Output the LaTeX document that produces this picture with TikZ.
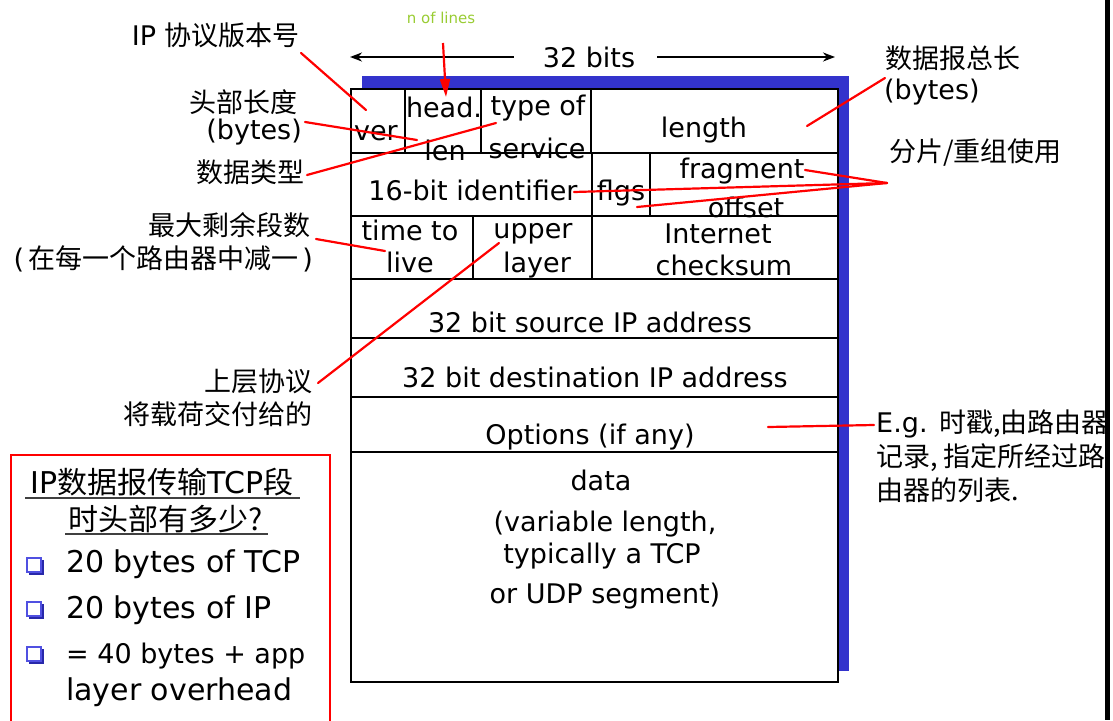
\documentclass[tikz,border=0pt]{standalone}
\usepackage{fontspec}
\setmainfont{DejaVu Sans}
\newfontfamily\cjk{Noto Sans CJK SC}
\usetikzlibrary{arrows.meta}
\definecolor{shadowblue}{RGB}{51,51,204}
\definecolor{leadred}{RGB}{255,0,0}
\definecolor{notegreen}{RGB}{153,204,51}
\definecolor{bulletblue}{RGB}{80,80,225}
\definecolor{bulletdark}{RGB}{40,40,170}

\begin{document}
\begin{tikzpicture}[x=1pt,y=-1pt,
  field/.style={font=\fontsize{27}{31}\selectfont, anchor=base, inner sep=0pt},
  lblR/.style={font=\fontsize{27}{31}\selectfont, anchor=base east, inner sep=0pt},
  lblL/.style={font=\fontsize{27}{31}\selectfont, anchor=base west, inner sep=0pt},
  note/.style={font=\fontsize{30}{34}\selectfont, inner sep=0pt},
  grid/.style={line width=2pt, black},
  leader/.style={draw=leadred, line width=2.2pt, line cap=round},
  span/.style={line width=2pt, -{Stealth[length=12pt,width=9pt]}}]

\useasboundingbox (0,0) rectangle (1113,720);

% header layout: shadow, outer frame and field rows
\fill[shadowblue] (362,76) rectangle (849,671);
\filldraw[grid, fill=white] (351,89) rectangle (838,682);
\foreach \yy in {153,216,279,338,397,452} \draw[grid] (351,\yy) -- (838,\yy);
\foreach \xx in {405,481,591} \draw[grid] (\xx,89) -- (\xx,153);
\foreach \xx in {592,650} \draw[grid] (\xx,153) -- (\xx,216);
\foreach \xx in {473,592} \draw[grid] (\xx,216) -- (\xx,279);

% field names
\node[field] (ver)   at (376,140) {ver};
\node[field] (hlen1) at (444,117) {head.};
\node[field] (hlen2) at (445,160) {len};
\node[field] (tos1)  at (538,115) {type of};
\node[field] (tos2)  at (537,158) {service};
\node[field] (len)   at (704,137) {length};
\node[field] (ident) at (473,200) {16-bit identifier};
\node[field] (flgs)  at (621,200) {flgs};
\node[field] (frag1) at (742,178) {fragment};
\node[field] (frag2) at (746,217) {offset};
\node[field] (ttl1)  at (410,240) {time to};
\node[field] (ttl2)  at (410,272) {live};
\node[field] (up1)   at (533,238) {upper};
\node[field] (up2)   at (537,272) {layer};
\node[field] (ck1)   at (718,243) {Internet};
\node[field] (ck2)   at (724,275) {checksum};
\node[field] (src)   at (590,332) {32 bit source IP address};
\node[field] (dst)   at (595,387) {32 bit destination IP address};
\node[field] (opt)   at (590,444) {Options (if any)};
\node[field] (data1) at (601,490) {data};
\node[field] (data2) at (605,531) {(variable length,};
\node[field] (data3) at (602,563) {typically a TCP};
\node[field] (data4) at (605,603) {or UDP segment)};

% width marker
\node[field] (bits) at (589,67) {32 bits};
\coordinate (bitsL) at (350,57);
\coordinate (bitsR) at (835,57);
\draw[span] (bits.west |- bitsL) ++(-29,0) -- (bitsL);
\draw[span] (bits.east |- bitsR) ++(22,0) -- (bitsR);

% small annotation on the header length field
\node[font=\fontsize{15}{17}\selectfont, text=notegreen, inner sep=0pt] (nlines) at (441,18) {n of lines};
\coordinate (nlinesTip) at (446,97);
\draw[leadred, line width=2.2pt, -{Triangle[length=18pt,width=10pt]}] (443,43) -- (nlinesTip);

% labels on the left
\node[lblR] (lver)  at (300,45)  {IP {\cjk 协议版本号}};
\node[lblR] (lhl1)  at (298,112) {\cjk 头部长度};
\node[lblR] (lhl2)  at (302,139) {(bytes)};
\node[lblR] (ltos)  at (305,182) {\cjk 数据类型};
\node[lblR] (lttl1) at (311,235) {\cjk 最大剩余段数};
\node[lblR] (lttl2) at (313,268) {(\hspace{4pt}{\cjk 在每一个路由器中减一}\hspace{4pt})};
\node[lblR] (lup1)  at (313,391) {\cjk 上层协议};
\node[lblR] (lup2)  at (313,424) {\cjk 将载荷交付给的};

% labels on the right, cut at the slide edge
\begin{scope}
  \clip (0,0) rectangle (1105,720);
  \node[lblL] (llen1) at (885,68)  {\cjk 数据报总长};
  \node[lblL] (llen2) at (884,99)  {(bytes)};
  \node[lblL] (lfrag) at (889,161) {\cjk 分片/重组使用};
  \node[lblL] (lopt1) at (876,432) {E.g. {\cjk 时戳,由路由器}};
  \node[lblL] (lopt2) at (876,466) {\cjk 记录, 指定所经过路};
  \node[lblL] (lopt3) at (876,500) {\cjk 由器的列表.};
\end{scope}
\fill[black] (1105,0) rectangle (1110,720);

% leader lines
\coordinate (aVer1) at (301,53);   \coordinate (aVer2) at (366,110);
\coordinate (aHl1)  at (305,122);  \coordinate (aHl2)  at (417,140);
\coordinate (aTos1) at (307,175);  \coordinate (aTos2) at (496,123);
\coordinate (aTtl1) at (316,239);  \coordinate (aTtl2) at (385,251);
\coordinate (aUp1)  at (318,383);  \coordinate (aUp2)  at (499,243);
\coordinate (aLen1) at (885,78);   \coordinate (aLen2) at (807,126);
\coordinate (aFrag) at (887,183);
\coordinate (aFragA) at (805,170); \coordinate (aFragB) at (574,192); \coordinate (aFragC) at (637,207);
\coordinate (aOpt1) at (768,427);  \coordinate (aOpt2) at (874,425);
\draw[leader] (aVer1) -- (aVer2);
\draw[leader] (aHl1) -- (aHl2);
\draw[leader] (aTos1) -- (aTos2);
\draw[leader] (aTtl1) -- (aTtl2);
\draw[leader] (aUp1) -- (aUp2);
\draw[leader] (aLen1) -- (aLen2);
\draw[leader] (aFrag) -- (aFragA);
\draw[leader] (aFrag) -- (aFragB);
\draw[leader] (aFrag) -- (aFragC);
\draw[leader] (aOpt1) -- (aOpt2);

% question box
\draw[leadred, line width=1.3pt] (11,725) -- (11,455) -- (330,455) -- (330,725);
\node[note, anchor=base] (q1) at (162,493) {IP{\cjk 数据报传输}TCP{\cjk 段}};
\node[note, anchor=base] (q2) at (166,530) {\cjk 时头部有多少?};
\draw[line width=1.5pt, black!75] (25,498) -- (300,498);
\draw[line width=1.5pt, black!75] (65,534) -- (268,534);
\foreach \by in {558,602,647} {
  \fill[bulletdark] (29,\by+2) rectangle (44,\by+17);
  \filldraw[draw=bulletblue, fill=white, line width=2pt] (26.5,\by) rectangle (40.5,\by+14);
}
\node[note, anchor=base west] (b1) at (66,572) {20 bytes of TCP};
\node[note, anchor=base west] (b2) at (66,618) {20 bytes of IP};
\node[note, anchor=base west, font=\fontsize{27}{31}\selectfont] (b3) at (66,663) {= 40 bytes + app};
\node[note, anchor=base west] (b4) at (66,700) {layer overhead};
\end{tikzpicture}
\end{document}
